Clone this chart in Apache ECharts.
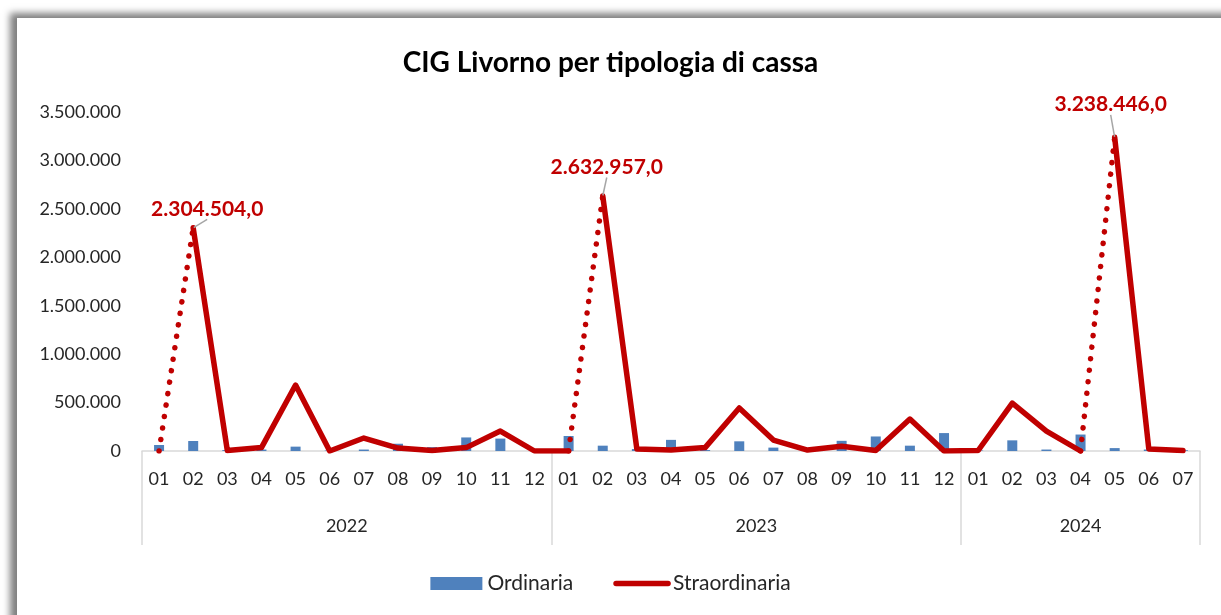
<!DOCTYPE html>
<html>
<head>
<meta charset="utf-8">
<script src="https://cdn.jsdelivr.net/npm/echarts@6/dist/echarts.min.js"></script>
<style>
  html, body { margin: 0; padding: 0; background: #fff; overflow: hidden; }
  .cornice {
    position: absolute; left: 17px; top: 18px; width: 1260px; height: 650px;
    background: #fff; box-shadow: -7px -5px 7px rgba(0, 0, 0, 0.5);
  }
  #main { position: absolute; left: 0; top: 0; width: 1221px; height: 615px; }
</style>
</head>
<body>
<div class="cornice"></div>
<div id="main"></div>
<script>
  // anni e mesi (asse a due livelli)
  const anni = ['2022', '2023', '2024']
  const mesiPerAnno = [12, 12, 7]
  const mesi = ['01', '02', '03', '04', '05', '06', '07', '08', '09', '10', '11', '12',
    '01', '02', '03', '04', '05', '06', '07', '08', '09', '10', '11', '12',
    '01', '02', '03', '04', '05', '06', '07']

  // ore autorizzate
  const ordinaria = [62000, 103000, 10000, 15000, 45000, 5000, 15000, 75000, 40000, 140000, 128000, 8000,
    155000, 55000, 20000, 115000, 10000, 100000, 35000, 5000, 105000, 150000, 55000, 185000,
    5000, 110000, 15000, 170000, 30000, 15000, 8000]
  const straordinaria = [0, 2304504, 5000, 35000, 681000, 0, 134000, 30000, 5000, 35000, 206000, 0,
    0, 2632957, 20000, 10000, 35000, 444000, 113000, 10000, 50000, 5000, 330000, 0,
    5000, 495000, 206000, 0, 3238446, 20000, 5000]

  // tratti punteggiati (indice del punto di partenza) e punti con etichetta
  const trattiPunteggiati = [0, 12, 27]
  const puntiEtichetta = [1, 13, 28]

  const yTicks = [0, 500000, 1000000, 1500000, 2000000, 2500000, 3000000, 3500000]

  // spostamento delle etichette rispetto al punto (px)
  const spostaEtichetta = { 1: [14, -2], 13: [4, -12], 28: [-4, -16] }

  const ROSSO = '#C00000'
  const BLU = '#4F81BD'
  const FONT = 'Lato, "Liberation Sans", sans-serif'

  function formatIt(v, dec) {
    let s = String(Math.round(v)).replace(/\B(?=(\d{3})+(?!\d))/g, '.')
    return dec ? s + ',0' : s
  }

  // confini e centri degli anni sull'asse
  const confini = [0]
  mesiPerAnno.forEach(n => confini.push(confini[confini.length - 1] + n))
  const centri = anni.map((a, i) => (confini[i] + confini[i + 1]) / 2)

  // serie continue: spezzate dove il tratto e' punteggiato
  const corse = []
  let corrente = null
  for (let i = 0; i < straordinaria.length - 1; i++) {
    if (trattiPunteggiati.includes(i)) { corrente = null; continue }
    if (!corrente) { corrente = [i]; corse.push(corrente) }
    corrente.push(i + 1)
  }
  const continue2 = [0, 1].map(k => straordinaria.map((v, i) => {
    const dentro = corse.some((c, ci) => ci % 2 === k && c.includes(i))
    if (!dentro) return null
    if (puntiEtichetta.includes(i)) {
      return { value: v, symbol: 'circle', symbolSize: 1, label: { show: true } }
    }
    return v
  }))
  const punteggiata = straordinaria.map((v, i) =>
    (trattiPunteggiati.includes(i) || trattiPunteggiati.includes(i - 1)) ? v : null)

  const lineaBase = {
    type: 'line',
    symbol: 'none',
    z: 3,
    connectNulls: false,
    color: ROSSO,
    lineStyle: { color: ROSSO, width: 5.5, cap: 'round', join: 'round' },
    emphasis: { disabled: true },
    label: {
      show: false,
      position: 'top',
      distance: 6,
      color: ROSSO,
      fontFamily: FONT,
      fontWeight: 'bold',
      fontSize: 21,
      formatter: p => formatIt(p.value, true)
    },
    labelLine: { show: true, lineStyle: { color: '#a6a6a6', width: 1.5 } },
    labelLayout: p => {
      const d = spostaEtichetta[p.dataIndex] || [0, -10]
      return { dx: d[0], dy: d[1] }
    }
  }

  const chart = echarts.init(document.getElementById('main'), null, { renderer: 'canvas' })
  chart.setOption({
    animation: false,
    backgroundColor: 'transparent',
    title: {
      text: 'CIG Livorno per tipologia di cassa',
      left: 'center',
      top: 44,
      textStyle: { fontFamily: FONT, fontWeight: 'bold', fontSize: 28, color: '#000' }
    },
    legend: {
      top: 568,
      left: 'center',
      itemWidth: 52,
      itemHeight: 13,
      itemGap: 40,
      textStyle: { fontFamily: FONT, fontSize: 21, color: '#262626' },
      data: [
        { name: 'Ordinaria', icon: 'rect' },
        {
          name: 'Straordinaria',
          itemStyle: { opacity: 0 },
          lineStyle: { color: ROSSO, width: 5.5, cap: 'round', type: 'solid' }
        }
      ]
    },
    grid: { left: 142, right: 21, top: 112, bottom: 164 },
    xAxis: [
      {
        type: 'category',
        data: mesi,
        boundaryGap: true,
        axisLine: { lineStyle: { color: '#d9d9d9', width: 1.5 } },
        axisTick: { show: false },
        axisLabel: { interval: 0, margin: 19, fontFamily: FONT, fontSize: 18, color: '#262626' }
      },
      {
        type: 'value',
        position: 'bottom',
        min: 0,
        max: confini[confini.length - 1],
        splitLine: { show: false },
        axisLine: { show: false },
        axisTick: { show: true, customValues: confini, length: 94, lineStyle: { color: '#d9d9d9', width: 1.5 } },
        axisLabel: {
          customValues: centri,
          margin: 66,
          fontFamily: FONT,
          fontSize: 18,
          color: '#262626',
          formatter: v => anni[centri.indexOf(v)] || ''
        }
      }
    ],
    yAxis: {
      type: 'value',
      min: 0,
      max: yTicks[yTicks.length - 1],
      interval: 500000,
      splitLine: { show: false },
      axisLine: { show: false },
      axisTick: { show: false },
      axisLabel: { margin: 21, fontFamily: FONT, fontSize: 18, color: '#262626', formatter: v => formatIt(v, false) }
    },
    series: [
      {
        name: 'Ordinaria',
        type: 'bar',
        data: ordinaria,
        barWidth: 10,
        itemStyle: { color: BLU },
        emphasis: { disabled: true }
      },
      Object.assign({}, lineaBase, { name: 'Straordinaria', data: continue2[0] }),
      Object.assign({}, lineaBase, { name: 'Straordinaria', data: continue2[1] }),
      Object.assign({}, lineaBase, {
        name: 'Straordinaria',
        data: punteggiata,
        lineStyle: { color: ROSSO, width: 5.5, type: [0.1, 11.5], cap: 'round' }
      })
    ]
  })
</script>
</body>
</html>
